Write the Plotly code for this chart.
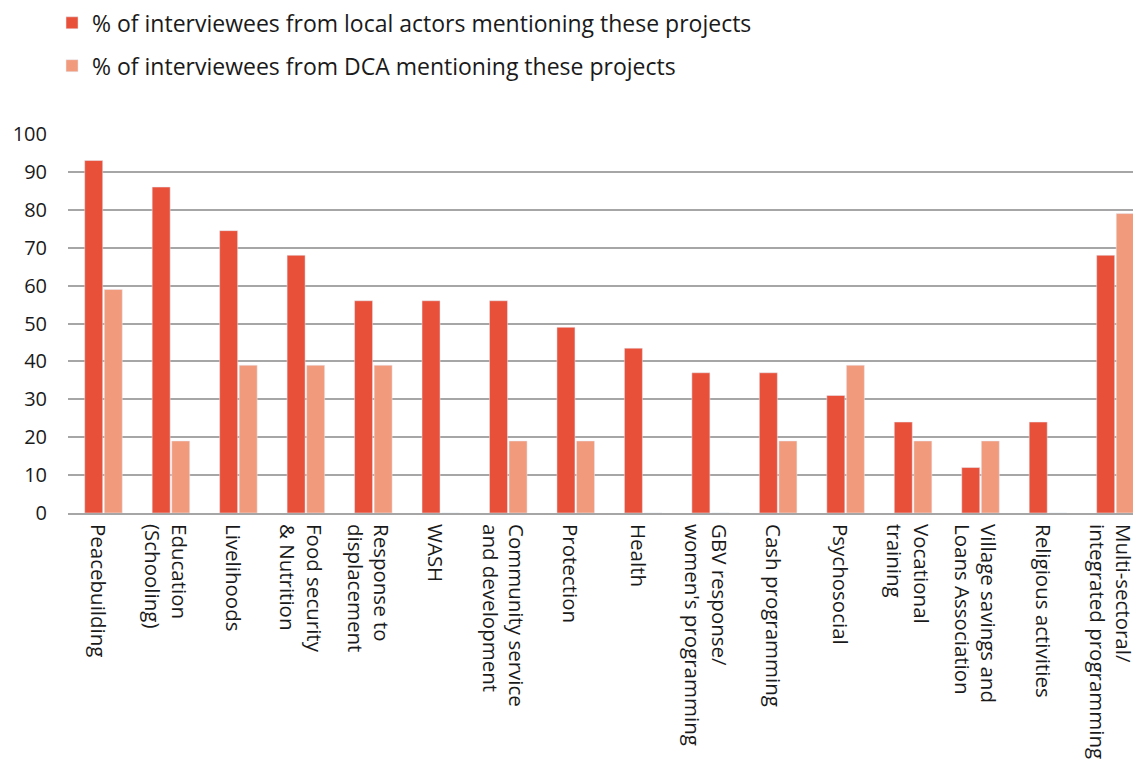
import plotly.graph_objects as go

categories = [
    "Peacebuilding", "Education<br>(Schooling)", "Livelihoods", "Food security<br>& Nutrition",
    "Response to<br>displacement", "WASH", "Community service<br>and development", "Protection",
    "Health", "GBV response/<br>women's programming", "Cash programming", "Psychosocial",
    "Vocational<br>training", "Village savings and<br>Loans Association", "Religious activities",
    "Multi-sectoral/<br>integrated programming",
]
local_actors = [93, 86, 74.5, 68, 56, 56, 56, 49, 43.5, 37, 37, 31, 24, 12, 24, 68]
dca = [59, 19, 39, 39, 39, 0, 19, 19, 0, 0, 19, 39, 19, 19, 0, 79]
y_ticks = [0, 10, 20, 30, 40, 50, 60, 70, 80, 90, 100]

fig = go.Figure()
fig.add_trace(go.Bar(x=categories, y=local_actors, name="% of interviewees from local actors mentioning these projects",
                     marker_color="#E8503A", legendgroup="a"))
fig.add_trace(go.Bar(x=categories, y=dca, name="% of interviewees from DCA mentioning these projects",
                     marker_color="#F29A7C", legendgroup="b"))
# invisible helper trace so the label axis (x2) is drawn
fig.add_trace(go.Scatter(x=list(range(len(categories))), y=local_actors, xaxis="x2", mode="markers",
                         marker=dict(opacity=0), showlegend=False, hoverinfo="skip"))

x_range = [-0.526, 15.26]
label_shift = 0.085  # labels sit slightly left of the bar groups

fig.update_layout(
    width=1134, height=775,
    margin=dict(l=68, r=1, t=134, b=262),
    paper_bgcolor="white", plot_bgcolor="white",
    barmode="group", bargap=0.42, bargroupgap=0.08,
    font=dict(family="Open Sans, sans-serif", color="#1a1a1a"),
    legend=dict(x=-0.015, y=1.35, xanchor="left", yanchor="top", traceorder="grouped",
                tracegroupgap=10, font=dict(size=23, family="Open Sans, sans-serif"),
                itemwidth=30),
    showlegend=True,
    xaxis=dict(showline=True, linecolor="#a6a6a6", linewidth=2, range=x_range,
               automargin=False, showticklabels=False),
    xaxis2=dict(overlaying="x", side="bottom", anchor="y", type="linear",
                range=[x_range[0] + label_shift, x_range[1] + label_shift],
                tickmode="array", tickvals=list(range(len(categories))), ticktext=categories,
                tickangle=90, tickfont=dict(size=20.5), ticklabelstandoff=10, showticklabels=True,
                ticklabeloverflow="allow",
                showgrid=False, zeroline=False, showline=False, automargin=False),
)
fig.update_yaxes(range=[0, 100], tickvals=y_ticks, showgrid=True, gridcolor="#a6a6a6", gridwidth=1.5,
                 zeroline=False, tickfont=dict(size=20), ticklabelstandoff=20, showline=False,
                 automargin=False)

fig.write_html("out.html")
